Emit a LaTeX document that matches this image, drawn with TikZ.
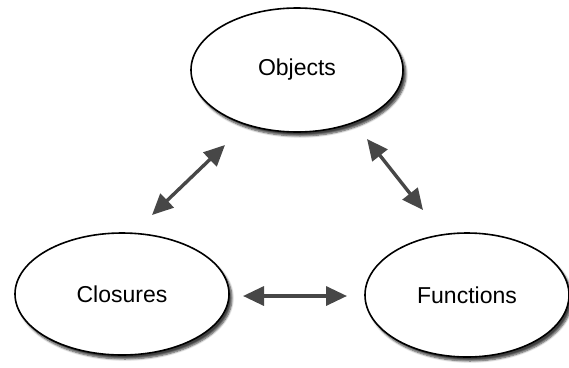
\documentclass[tikz,border=0pt]{standalone}
\usepackage{fontspec}
\setmainfont{Liberation Sans}
\usetikzlibrary{arrows.meta,shapes.geometric,shadows,shadows.blur}

\tikzset{
  concept/.style={
    draw=black,
    line width=1.6pt,
    ellipse,
    fill=white,
    inner sep=0pt,
    font=\fontsize{23}{27}\selectfont,
    blur shadow={shadow xshift=3pt,shadow yshift=-4pt,shadow blur steps=6,shadow opacity=75}
  },
  biarrow/.style={
    draw=black!72,
    line width=3.4pt,
    {Triangle[length=21pt,width=19pt]}-{Triangle[length=21pt,width=19pt]}
  }
}

\begin{document}
\begin{tikzpicture}[x=1pt,y=-1pt]

  \useasboundingbox (0,0) rectangle (569,367);

  \node (obj) [concept, minimum width=212pt, minimum height=124pt] at (297,70) {Objects};
  \node (clo) [concept, minimum width=214pt, minimum height=122pt] at (122,294) {Closures};
  \node (fun) [concept, minimum width=204pt, minimum height=124pt] at (467,295) {Functions};

  % arrow ends
  \coordinate (oc) at (225,145);
  \coordinate (co) at (152,215);
  \coordinate (of) at (367,139);
  \coordinate (fo) at (423,210);
  \coordinate (cf) at (243,296);
  \coordinate (fc) at (347,296);

  \draw[biarrow] (co) -- (oc);
  \draw[biarrow] (of) -- (fo);
  \draw[biarrow] (cf) -- (fc);

\end{tikzpicture}
\end{document}
